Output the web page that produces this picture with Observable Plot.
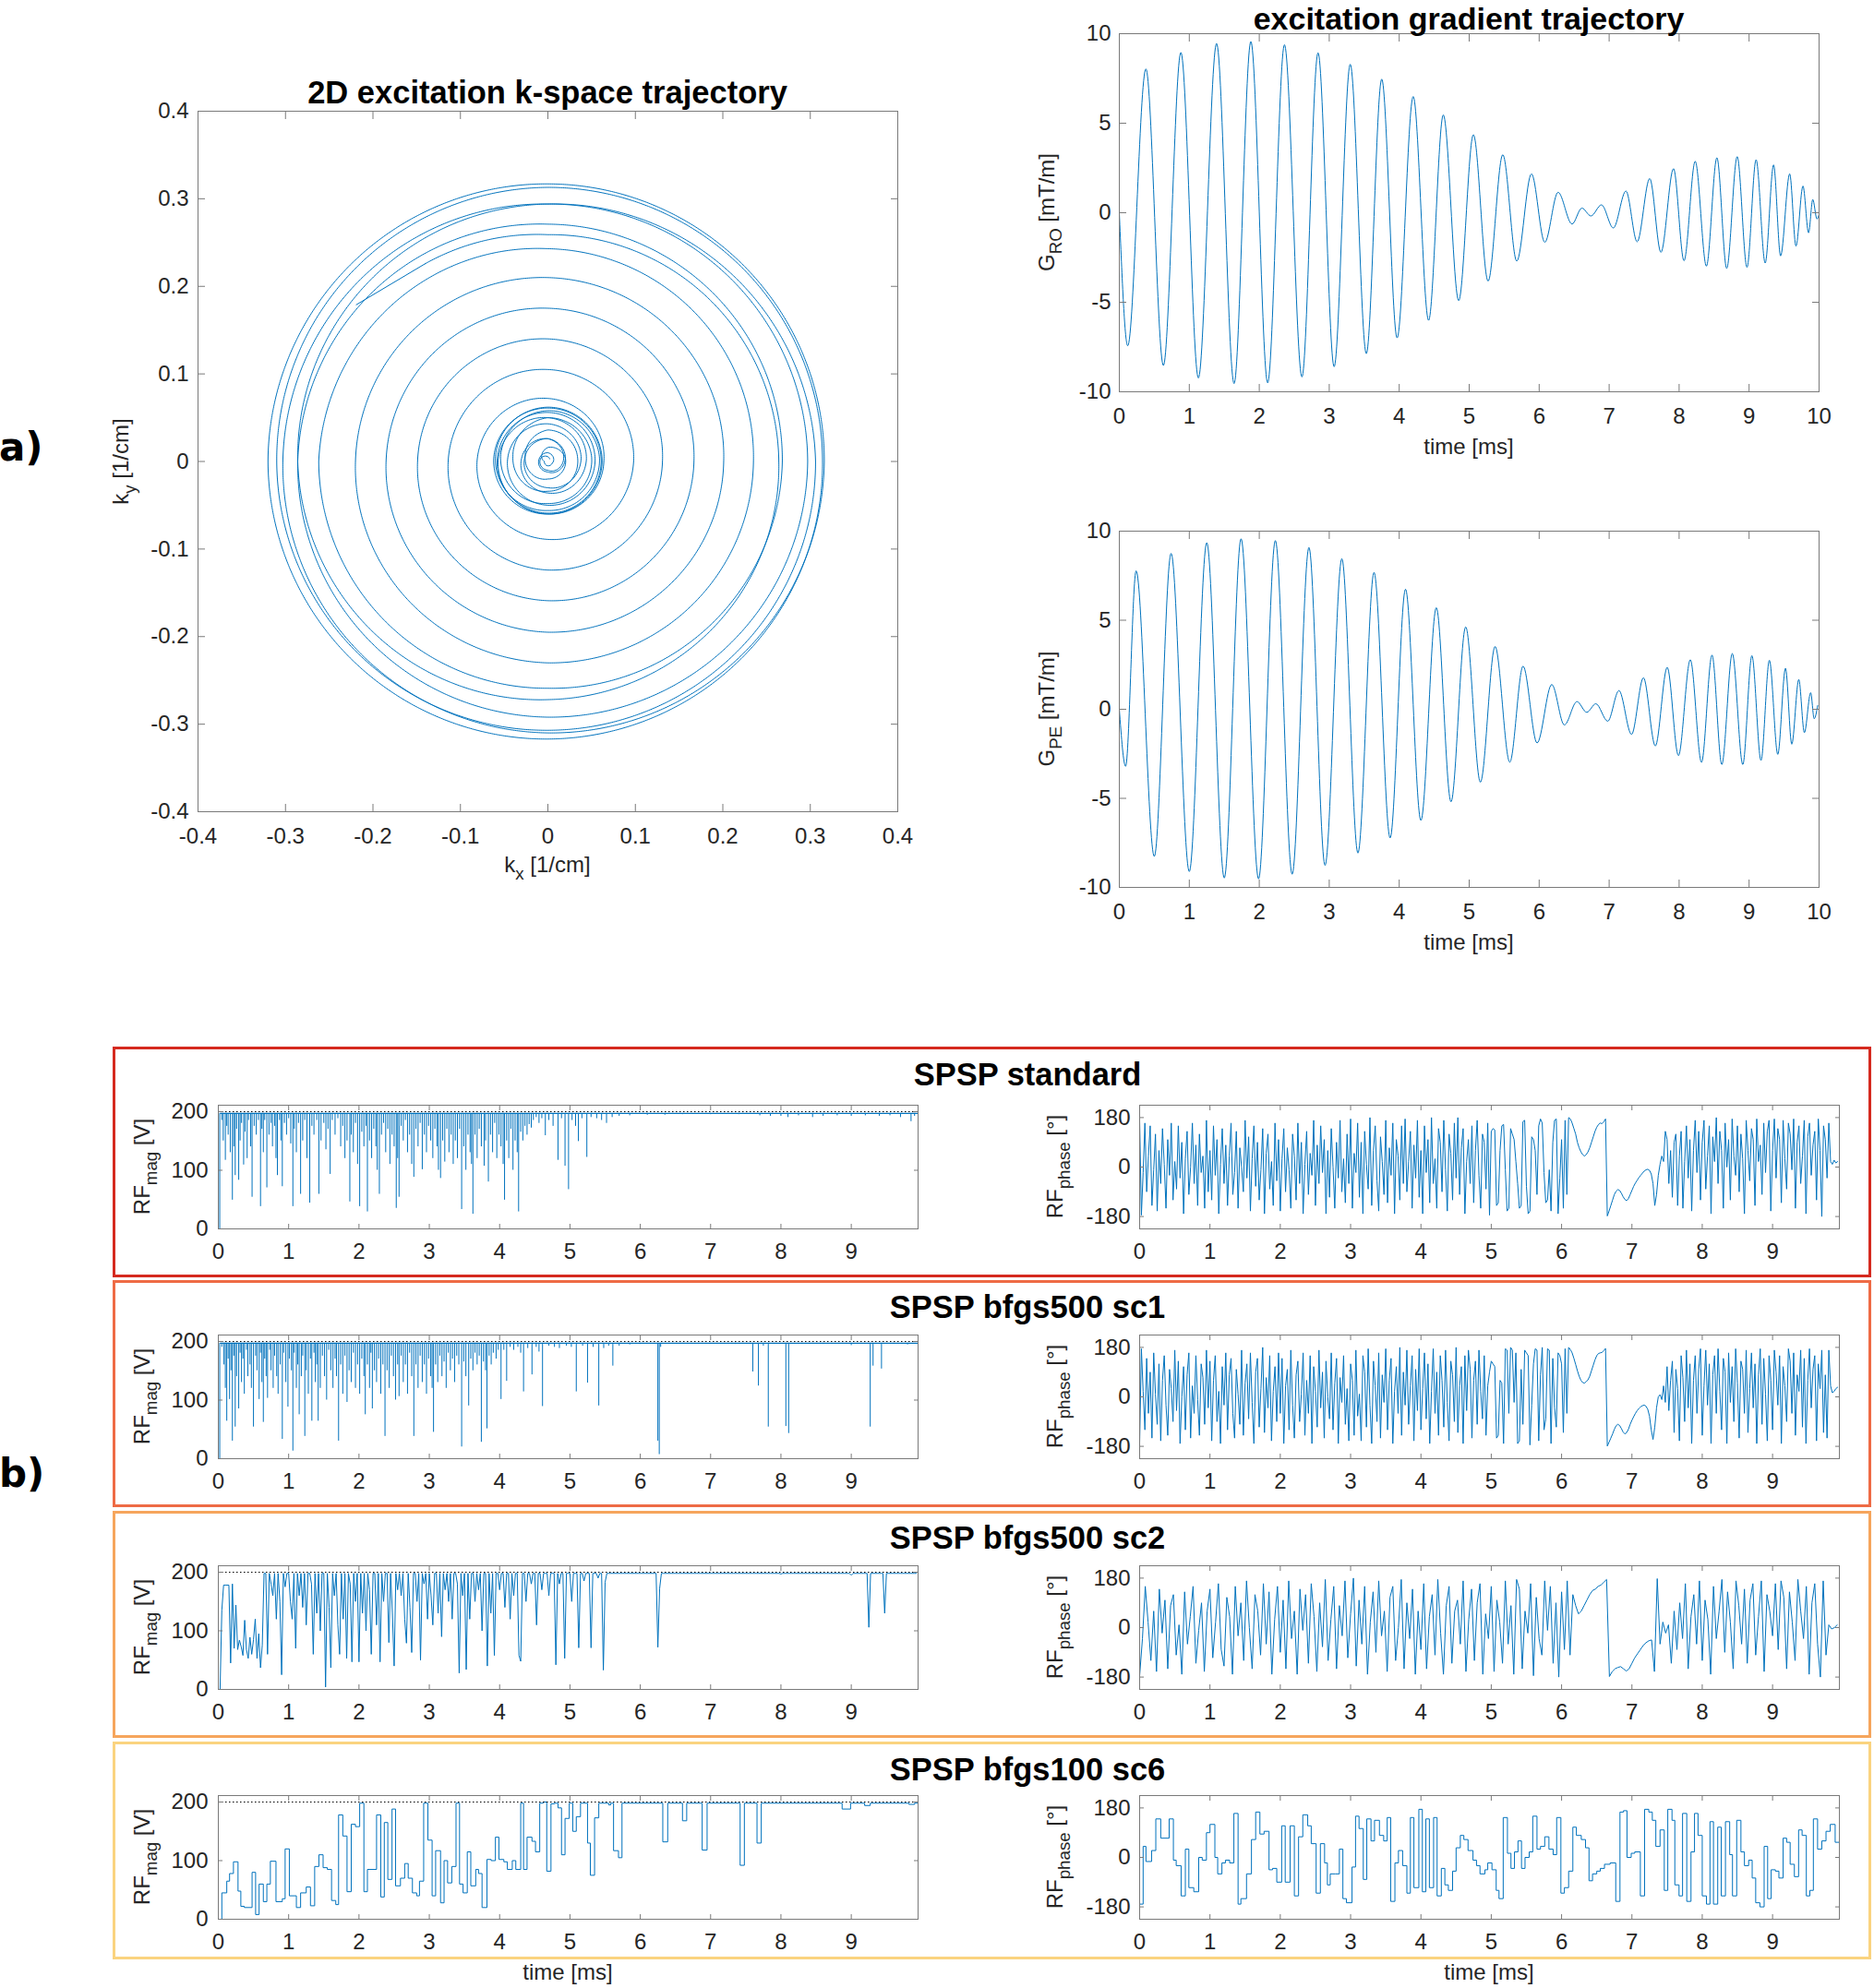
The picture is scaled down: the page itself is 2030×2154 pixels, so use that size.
<!DOCTYPE html>
<html><head><meta charset="utf-8">
<script src="https://cdn.jsdelivr.net/npm/d3@7"></script>
<script src="https://cdn.jsdelivr.net/npm/@observablehq/plot@0.6"></script>
<style>
body{margin:0;background:#fff;}
#root{position:relative;width:2030px;height:2154px;overflow:hidden;font-family:"Liberation Sans",Arial,Helvetica,sans-serif;color:#262626;background:#fff;}
.t{position:absolute;line-height:1;white-space:nowrap;}
.sb{font-size:0.78em;position:relative;top:0.42em;}
.box{position:absolute;box-sizing:border-box;border-style:solid;border-width:3px;}
</style></head>
<body><div id="root"></div>
<script>
// ---------------- DATA ----------------
// 2D excitation k-space trajectory [kx, ky] in 1/cm: straight start segment, then axis crossings (chronological)
const kLeadIn = [[-0.219, 0.179], [-0.140, 0.226]];
const kTraj = [
 [-0.140, 0.226],
 [0, 0.259], [0.264, 0], [0, -0.272], [-0.286, 0],
 [0, 0.294], [0.306, 0], [0, -0.307], [-0.310, 0],
 [0, 0.313], [0.314, 0], [0, -0.317], [-0.320, 0],
 [0, 0.317], [0.316, 0], [0, -0.310], [-0.303, 0],
 [0, 0.294], [0.297, 0], [0, -0.292], [-0.286, 0],
 [0, 0.271], [0.268, 0], [0, -0.259], [-0.262, 0],
 [0, 0.243], [0.235, 0], [0, -0.230], [-0.220, 0],
 [0, 0.210], [0.201, 0], [0, -0.195], [-0.185, 0],
 [0, 0.175], [0.167, 0], [0, -0.159], [-0.149, 0],
 [0, 0.140], [0.131, 0], [0, -0.124], [-0.114, 0],
 [0, 0.105], [0.098, 0], [0, -0.089], [-0.081, 0],
 [0, 0.072], [0.064, 0], [0, -0.060], [-0.057, 0],
 [0, 0.050], [0.044, 0.002], [0, -0.036], [-0.030, 0.004],
 [0, 0.026], [0.020, 0.004], [0, -0.012], [-0.010, 0.003],
 [0, 0.010], [0.005, -0.002], [0, -0.005], [-0.004, 0.0],
 [0, 0.016], [0.020, 0.004], [0, -0.020], [-0.026, 0.005],
 [0, 0.036], [0.034, 0.004], [0, -0.034], [-0.040, 0.006],
 [0, 0.050], [0.050, 0.005], [0, -0.048], [-0.054, 0.006],
 [0, 0.058], [0.059, 0.004], [0, -0.056], [-0.060, 0.004],
 [0, 0.062], [0.062, 0.002], [0, -0.060], [-0.062, 0.002],
 [0, 0.061], [0.061, 0], [0, -0.059], [-0.058, 0],
 [0, 0.056], [0.054, 0.002], [0, -0.050], [-0.046, 0.003],
 [0, 0.043], [0.038, 0.004], [0, -0.030], [-0.026, 0.006],
 [0, 0.026], [0.018, 0.006], [0, -0.010], [-0.008, 0.004],
 [0.002, 0.003]
];
// Gradient waveforms: extrema [time ms, mT/m]
const gRO = [[0,0],[0.12,-7.43],[0.38,8.03],[0.63,-8.53],[0.88,8.95],[1.13,-9.23],[1.39,9.45],[1.64,-9.54],[1.88,9.56],[2.12,-9.50],[2.36,9.38],[2.61,-9.17],[2.84,8.93],[3.07,-8.60],[3.30,8.29],[3.53,-7.87],[3.75,7.46],[3.97,-6.99],[4.20,6.49],[4.42,-6.01],[4.63,5.46],[4.85,-4.91],[5.06,4.36],[5.27,-3.82],[5.48,3.24],[5.68,-2.70],[5.89,2.17],[6.08,-1.65],[6.27,1.14],[6.47,-0.63],[6.61,0.26],[6.74,-0.18],[6.89,0.44],[7.06,-0.85],[7.24,1.21],[7.40,-1.62],[7.58,1.91],[7.74,-2.21],[7.92,2.46],[8.07,-2.68],[8.23,2.87],[8.39,-2.98],[8.54,3.07],[8.68,-3.11],[8.83,3.13],[8.97,-3.05],[9.10,2.96],[9.23,-2.81],[9.35,2.67],[9.45,-2.41],[9.58,2.17],[9.67,-1.86],[9.77,1.49],[9.85,-1.12],[9.91,0.74],[9.97,-0.35],[10,-0.1]];
const gPE = [[0,0],[0.09,-3.20],[0.24,7.77],[0.50,-8.26],[0.74,8.75],[1.00,-9.11],[1.25,9.35],[1.50,-9.47],[1.74,9.57],[1.99,-9.52],[2.23,9.47],[2.47,-9.26],[2.71,9.08],[2.94,-8.76],[3.18,8.45],[3.41,-8.07],[3.64,7.68],[3.87,-7.22],[4.09,6.74],[4.31,-6.24],[4.53,5.70],[4.74,-5.19],[4.95,4.62],[5.16,-4.09],[5.37,3.52],[5.58,-2.97],[5.77,2.42],[5.97,-1.89],[6.18,1.39],[6.36,-0.88],[6.54,0.43],[6.68,-0.17],[6.81,0.31],[6.98,-0.67],[7.14,1.05],[7.32,-1.41],[7.49,1.77],[7.66,-2.06],[7.83,2.35],[7.99,-2.60],[8.16,2.78],[8.32,-2.98],[8.47,3.04],[8.61,-3.10],[8.76,3.13],[8.91,-3.10],[9.04,3.01],[9.17,-2.87],[9.29,2.75],[9.41,-2.53],[9.52,2.30],[9.61,-1.96],[9.71,1.67],[9.79,-1.31],[9.88,0.93],[9.93,-0.53],[9.98,0.21]];

// RF magnitude limit (dotted) [V]
const rfLimit = 200;
// SPSP standard: RF magnitude rail and dips [time ms, V]
const stdMagRail = [[0.03,197],[9.94,197]];
const stdMagDips = [[0.02,0],[0.05,185],[0.07,150],[0.10,117],[0.12,175],[0.14,160],[0.17,130],[0.20,49],[0.22,140],[0.24,91],[0.26,170],[0.29,83],[0.31,150],[0.33,180],[0.36,109],[0.38,165],[0.41,120],[0.43,185],[0.46,140],[0.48,54],[0.51,175],[0.54,160],[0.57,185],[0.60,38],[0.62,170],[0.64,130],[0.66,185],[0.69,70],[0.72,160],[0.75,180],[0.77,140],[0.80,175],[0.82,120],[0.84,91],[0.87,185],[0.89,150],[0.91,72],[0.94,180],[0.97,160],[1.00,188],[1.03,145],[1.06,38],[1.08,170],[1.11,130],[1.14,180],[1.17,59],[1.20,150],[1.23,185],[1.26,120],[1.30,44],[1.33,175],[1.36,160],[1.40,185],[1.43,59],[1.46,150],[1.50,180],[1.53,135],[1.56,170],[1.59,93],[1.62,185],[1.66,160],[1.70,188],[1.74,140],[1.77,175],[1.80,120],[1.83,150],[1.87,46],[1.89,160],[1.92,130],[1.95,180],[1.98,110],[2.01,38],[2.04,165],[2.07,140],[2.10,175],[2.12,29],[2.15,150],[2.18,120],[2.21,170],[2.24,140],[2.26,100],[2.29,59],[2.32,160],[2.35,180],[2.38,130],[2.41,170],[2.44,110],[2.47,160],[2.50,140],[2.53,35],[2.55,120],[2.57,54],[2.60,175],[2.63,150],[2.66,185],[2.69,130],[2.72,160],[2.75,110],[2.78,88],[2.81,170],[2.84,140],[2.87,180],[2.90,101],[2.93,160],[2.96,130],[2.99,175],[3.02,150],[3.05,120],[3.08,170],[3.11,140],[3.13,100],[3.16,86],[3.19,150],[3.22,114],[3.25,170],[3.28,130],[3.31,160],[3.34,110],[3.37,150],[3.40,120],[3.43,170],[3.46,33],[3.49,140],[3.52,100],[3.55,160],[3.58,130],[3.60,110],[3.62,25],[3.65,160],[3.68,120],[3.71,170],[3.74,140],[3.78,107],[3.80,150],[3.84,80],[3.87,160],[3.90,130],[3.93,180],[3.96,120],[3.99,160],[4.02,140],[4.05,110],[4.07,49],[4.10,150],[4.13,120],[4.16,170],[4.19,100],[4.22,150],[4.25,130],[4.27,29],[4.30,165],[4.33,150],[4.36,175],[4.39,160],[4.42,178],[4.45,172],[4.48,185],[4.52,190],[4.56,180],[4.60,188],[4.65,159],[4.70,185],[4.76,175],[4.83,117],[4.88,188],[4.93,107],[4.98,67],[5.03,185],[5.08,175],[5.12,149],[5.17,188],[5.24,122],[5.30,190],[5.38,188],[5.45,185],[5.52,180],[5.60,190],[5.70,192],[5.85,193],[6.10,194],[6.35,194],[6.60,195],[7.0,195],[7.4,195],[7.7,193],[7.85,192],[8.0,192],[8.1,190],[8.25,193],[8.45,190],[8.6,192],[8.8,193],[9.0,192],[9.2,193],[9.4,192],[9.55,193],[9.7,190],[9.85,183],[9.9,192]];
// SPSP bfgs500 sc1: RF magnitude rail and dips
const sc1MagRail = [[0.03,197],[9.94,197]];
const sc1MagDips = [[0.02,0],[0.05,190],[0.08,160],[0.10,120],[0.12,64],[0.14,170],[0.16,101],[0.18,150],[0.20,30],[0.22,175],[0.24,54],[0.26,140],[0.29,85],[0.31,180],[0.33,130],[0.35,170],[0.37,110],[0.40,185],[0.42,140],[0.45,160],[0.47,120],[0.50,54],[0.53,175],[0.55,150],[0.58,101],[0.60,180],[0.62,130],[0.64,62],[0.66,170],[0.68,140],[0.70,103],[0.73,185],[0.75,150],[0.78,120],[0.80,175],[0.83,140],[0.85,110],[0.88,160],[0.91,33],[0.93,180],[0.96,130],[0.99,88],[1.01,170],[1.04,150],[1.06,13],[1.08,180],[1.11,120],[1.13,160],[1.15,75],[1.18,140],[1.20,175],[1.23,38],[1.25,150],[1.28,110],[1.31,170],[1.33,64],[1.36,180],[1.38,130],[1.40,160],[1.42,64],[1.45,120],[1.48,175],[1.51,140],[1.54,100],[1.57,185],[1.60,150],[1.63,120],[1.66,170],[1.68,140],[1.71,30],[1.74,160],[1.77,110],[1.80,175],[1.83,96],[1.86,150],[1.89,130],[1.92,180],[1.95,120],[1.98,160],[2.01,110],[2.04,170],[2.07,140],[2.09,75],[2.12,160],[2.15,120],[2.17,180],[2.19,85],[2.22,150],[2.25,130],[2.28,170],[2.31,110],[2.34,160],[2.37,38],[2.40,150],[2.43,120],[2.46,175],[2.49,140],[2.52,100],[2.55,160],[2.57,106],[2.60,175],[2.63,130],[2.66,160],[2.69,110],[2.72,180],[2.75,140],[2.78,38],[2.81,160],[2.84,120],[2.87,175],[2.90,130],[2.93,160],[2.96,110],[2.99,170],[3.02,140],[3.04,120],[3.06,45],[3.09,160],[3.12,130],[3.15,175],[3.18,140],[3.21,165],[3.24,120],[3.27,180],[3.30,150],[3.33,170],[3.36,130],[3.39,175],[3.42,160],[3.46,20],[3.49,165],[3.52,140],[3.56,90],[3.59,170],[3.62,150],[3.65,180],[3.68,160],[3.71,175],[3.74,28],[3.77,165],[3.80,150],[3.82,51],[3.85,175],[3.88,160],[3.91,180],[3.95,170],[3.98,185],[4.02,101],[4.06,185],[4.10,132],[4.15,190],[4.20,185],[4.26,190],[4.30,180],[4.34,114],[4.40,188],[4.46,143],[4.52,190],[4.56,182],[4.61,89],[4.70,192],[4.78,190],[4.85,188],[4.95,192],[5.02,190],[5.09,114],[5.18,192],[5.25,129],[5.33,190],[5.41,90],[5.48,188],[5.55,192],[5.61,158],[5.70,192],[5.85,194],[6.0,195],[6.25,30],[6.27,7],[6.29,190],[6.6,196],[7.0,196],[7.35,195],[7.60,148],[7.68,124],[7.75,192],[7.82,54],[7.9,195],[8.07,55],[8.11,43],[8.3,195],[8.6,195],[9.0,193],[9.27,54],[9.31,158],[9.43,153],[9.6,195],[9.8,194]];
// SPSP bfgs500 sc2: RF magnitude samples every 0.025 ms
const sc2MagDt = 0.025;
const sc2Mag = [
 0,0,135,178,178,178,178,45,180,70,144,68,84,73,58,118,68,53,89,60,85,120,53,95,37,76,198,198,60,198,180,160,198,120,198,150,25,198,175,198,
 198,150,120,198,70,198,160,198,140,198,110,198,198,180,60,198,130,198,100,198,198,4,198,140,37,198,160,198,110,60,198,120,198,53,198,180,47,198,150,198,
 47,198,130,198,100,198,170,60,198,198,110,198,47,198,150,198,198,80,198,130,40,198,170,198,160,198,120,79,198,140,63,198,198,150,198,50,198,180,198,120,
 198,160,110,198,198,130,198,90,198,170,198,150,198,120,198,198,180,28,198,160,198,34,198,120,198,198,150,198,170,198,100,198,198,40,198,130,198,58,198,198,
 170,198,198,140,198,198,120,198,160,198,198,58,48,198,198,150,198,198,180,198,198,110,198,198,170,198,198,198,160,198,198,198,42,198,180,198,198,53,198,198,
 198,150,198,198,198,71,198,198,185,198,198,198,71,198,198,198,190,198,198,33,183,198,198,198,198,198,198,198,198,198,198,198,198,198,198,198,198,198,198,198,
 198,198,198,198,198,198,198,198,198,198,72,172,198,198,198,198,198,198,198,198,198,198,198,198,198,198,198,198,198,198,198,198,198,198,198,198,198,198,198,198,
 198,198,198,198,198,198,198,198,198,198,198,198,198,198,198,198,198,198,198,198,198,198,198,198,198,198,198,198,198,198,198,198,198,198,198,198,198,198,198,198,
 197,198,198,198,198,198,198,198,198,198,198,198,198,198,198,198,198,198,198,198,198,198,198,198,198,198,198,198,198,198,198,198,198,198,198,198,198,198,198,198,
 195,198,198,198,198,198,198,198,198,198,106,198,198,198,198,198,198,198,198,130,198,198,198,198,198,198,198,198,198,198,198,198,198,198,198,198,198,198
];
// SPSP bfgs100 sc6: RF magnitude steps [start time ms, V]
const sc6Mag = [[0,0],[0.05,45],[0.12,65],[0.16,78],[0.215,98],[0.28,48],[0.32,22],[0.37,20],[0.48,80],[0.53,8],[0.58,60],[0.64,30],[0.69,60],[0.74,99],[0.82,30],[0.91,35],[0.95,120],[1.01,40],[1.11,20],[1.17,45],[1.25,55],[1.31,23],[1.37,90],[1.43,110],[1.49,88],[1.55,85],[1.61,32],[1.67,25],[1.71,178],[1.77,142],[1.83,47],[1.89,162],[1.95,158],[2.01,198],[2.07,47],[2.12,85],[2.25,178],[2.31,38],[2.36,165],[2.41,68],[2.47,188],[2.52,57],[2.59,70],[2.65,95],[2.70,70],[2.76,45],[2.82,40],[2.86,65],[2.92,198],[2.98,135],[3.04,40],[3.09,117],[3.16,28],[3.21,100],[3.26,62],[3.32,90],[3.38,198],[3.43,60],[3.48,45],[3.54,115],[3.59,57],[3.66,85],[3.70,78],[3.75,20],[3.82,102],[3.88,100],[3.94,140],[3.99,102],[4.06,98],[4.11,85],[4.18,100],[4.23,85],[4.30,198],[4.34,85],[4.39,140],[4.46,133],[4.51,115],[4.57,198],[4.62,200],[4.67,82],[4.73,197],[4.78,198],[4.83,190],[4.88,110],[4.93,172],[4.99,198],[5.04,150],[5.09,175],[5.15,198],[5.25,130],[5.29,75],[5.35,173],[5.41,198],[5.55,195],[5.58,198],[5.62,117],[5.69,105],[5.74,198],[6.32,132],[6.39,198],[6.60,168],[6.66,198],[6.88,118],[6.95,198],[7.42,92],[7.48,198],[7.66,130],[7.72,198],[8.87,188],[8.99,198],[9.19,194],[9.27,198],[9.82,196],[9.90,198],[9.95,198]];

// RF phase [deg]: SPSP standard, samples every 0.025 ms
const stdPhaseDt = 0.025;
const stdPhase = [
 170,-175,-20,160,-90,40,150,-140,-10,120,-160,60,-60,140,10,-150,100,-30,160,-120,20,-80,150,-40,90,-170,30,130,-100,0,160,-60,80,-140,120,-20,40,-150,170,-90,
 60,-120,150,-30,100,-170,10,140,-60,80,-140,40,160,-100,-20,130,-150,70,0,-90,170,-40,110,-160,30,150,-70,90,-120,-10,140,-170,50,120,-80,20,-140,160,-50,100,
 -160,30,140,-90,70,-10,-150,120,40,-120,160,-60,90,-170,10,130,-100,50,-30,170,-140,80,-60,150,-20,100,-170,60,-110,140,0,-150,90,-40,170,-90,30,-130,120,-60,
 175,-150,50,-20,160,-110,90,-170,130,10,-80,180,-140,60,150,-50,-160,110,20,-100,170,-130,70,-30,160,-170,100,40,-120,150,-60,175,-90,20,130,-150,80,-40,170,-110,
 60,-170,150,-20,100,-130,180,-60,30,-150,140,90,-90,170,-10,-160,120,50,-120,160,-40,180,-100,70,140,-170,20,100,-60,150,-130,60,170,-30,-150,120,90,-80,160,-175,
 130,140,135,-140,-130,60,150,155,-10,-160,-150,140,120,100,20,-60,-150,-140,165,170,-70,-170,-160,110,100,60,-100,150,175,160,-20,-130,-120,-10,-160,90,170,175,-170,-40,
 100,-150,170,-100,180,175,160,140,120,90,70,55,45,40,45,55,70,90,110,130,145,155,160,158,165,175,-178,-160,-140,-120,-100,-88,-82,-85,-95,-108,-118,-122,-115,-100,
 -85,-70,-58,-48,-38,-30,-22,-15,-10,-8,-12,-25,-60,-140,-100,-30,10,40,20,130,100,-60,60,-110,90,120,-140,40,130,-150,20,150,-40,100,-160,60,170,-20,130,-120,
 90,170,-80,40,150,-170,110,20,180,-60,130,60,-150,160,0,100,-120,175,40,-30,150,-90,120,30,-170,170,60,-50,140,100,-140,175,20,80,-100,160,-20,130,170,-160,
 60,175,-40,140,100,-130,170,30,-80,160,120,-10,175,-150,90,150,-60,40,170,-170,110,160,-30,80,130,-120,175,60,-180,150,100,-40,160,20,10,25,15,20
];
// RF phase: SPSP bfgs500 sc1, samples every 0.025 ms
const sc1PhaseDt = 0.025;
const sc1Phase = [
 -170,175,20,-120,140,-60,90,-150,160,10,-100,120,-160,60,150,-30,-140,100,30,-90,170,-50,130,-170,0,110,-120,80,160,-150,40,-60,150,-10,-140,120,70,-100,170,-40,
 130,-160,60,150,-90,20,-170,110,-30,160,-120,80,140,-60,-150,100,10,-100,170,-140,50,120,-80,160,-20,-170,90,140,-110,30,180,-130,70,-40,150,-160,20,110,-90,160,
 -60,140,-170,40,100,-120,170,-30,-150,80,130,-90,10,160,-140,60,-60,150,-170,110,20,-110,170,-40,90,-150,130,0,-80,160,-120,50,140,-170,70,-20,150,-100,30,-160,
 120,60,-140,170,-70,10,-160,150,90,-110,175,-30,-170,130,40,-90,160,-150,80,-20,175,-120,60,140,-170,20,110,-60,180,-140,90,-30,170,-100,40,150,-160,100,-50,175,
 -120,30,160,-80,120,-170,20,175,-60,90,-140,150,60,-110,170,-20,-160,130,80,-90,180,-130,40,110,-170,150,-50,170,100,-150,60,130,-100,170,20,-80,150,-140,40,90,
 130,120,110,-150,-140,60,50,-170,175,170,-60,180,170,-20,160,-170,-160,100,-100,170,160,150,-175,-30,120,175,170,-160,80,180,-120,-80,175,170,-170,140,-40,-110,160,150,
 120,-130,175,-60,180,172,160,140,118,95,75,60,52,50,55,62,75,95,115,135,150,158,160,162,168,176,-179,-165,-150,-135,-118,-105,-100,-104,-115,-128,-135,-130,-118,-100,
 -85,-72,-60,-50,-42,-36,-32,-30,-34,-45,-70,-120,-155,-110,-40,0,8,-10,40,-20,110,-50,60,130,-130,100,30,-160,150,70,-90,170,-40,120,-170,60,150,-60,100,175,
 -140,40,170,-30,120,-170,80,150,-60,175,20,-120,140,90,-170,160,-20,110,-90,175,50,-150,130,100,-60,170,-130,30,160,-40,120,-170,80,175,-100,140,10,-160,150,60,
 -120,170,90,-30,150,-170,110,40,-90,175,130,-60,160,-140,80,20,170,-110,140,-170,60,175,-40,100,150,-160,120,30,170,-130,80,-150,170,40,15,20,30,35
];
// RF phase: SPSP bfgs500 sc2, samples every 0.04 ms
const sc2PhaseDt = 0.04;
const sc2Phase = [
 -175,-40,150,20,-120,60,-160,140,-20,100,-150,80,120,-100,10,-170,130,-60,40,150,-130,-10,90,-160,60,
 140,-110,20,160,-80,-140,110,40,-170,150,-30,90,-120,170,0,-150,120,60,-100,160,-60,130,-170,30,150,
 -90,100,-150,170,-40,60,-170,140,-10,120,-130,160,40,-160,90,-70,175,-120,30,150,-150,80,-30,170,-110,
 50,180,-140,100,-60,150,-170,20,130,-90,170,-30,60,-160,110,150,-120,0,175,-150,90,-40,140,-170,60,
 -80,160,-150,40,120,-100,175,-20,-170,80,150,-130,60,100,-60,170,-160,30,140,-120,90,160,-170,50,-40,
 150,-160,100,20,-130,170,-60,80,-170,175,140,-150,60,-20,160,-175,110,-40,-100,170,-10,150,-130,90,-180,
 130,-80,170,-100,120,80,50,60,80,100,120,135,140,150,155,165,175,-178,-160,-150,-145,-142,-150,-158,-150,
 -130,-110,-95,-80,-65,-55,-48,-45,-160,178,-60,20,-20,10,-130,60,-80,90,-40,160,-150,40,120,-60,170,
 -120,100,30,-170,150,-40,60,175,-90,130,20,-150,170,80,-60,140,-130,100,160,-100,40,170,-160,120,60,
 -30,160,-80,170,110,-150,130,20,-120,175,60,-40,150,-170,90,160,-60,-180,170,-100,10,-5,0,10
];
// RF phase: SPSP bfgs100 sc6 steps [start time ms, deg]
const sc6Phase = [[0,-170],[0.05,40],[0.09,-15],[0.17,25],[0.23,140],[0.30,70],[0.42,140],[0.48,-10],[0.52,-30],[0.59,-140],[0.65,30],[0.70,-110],[0.77,-125],[0.84,0],[0.89,-10],[0.95,90],[1.00,120],[1.07,0],[1.11,-60],[1.17,-20],[1.22,-10],[1.28,-20],[1.34,160],[1.40,-170],[1.44,-150],[1.52,-60],[1.59,65],[1.65,165],[1.71,85],[1.77,95],[1.84,-45],[1.89,-40],[1.95,-90],[2.02,115],[2.07,-90],[2.14,115],[2.20,-140],[2.26,75],[2.32,155],[2.39,115],[2.44,50],[2.51,-130],[2.57,50],[2.63,-20],[2.67,-100],[2.71,-60],[2.78,-60],[2.84,30],[2.89,-150],[2.94,-165],[3.02,-35],[3.07,150],[3.12,105],[3.18,-80],[3.23,140],[3.29,60],[3.34,135],[3.41,80],[3.47,60],[3.52,145],[3.57,-160],[3.63,-20],[3.68,25],[3.74,-30],[3.80,-130],[3.85,145],[3.90,-110],[3.97,175],[4.02,-125],[4.07,140],[4.12,-110],[4.18,145],[4.23,-140],[4.29,-40],[4.34,-100],[4.39,-120],[4.45,-50],[4.50,35],[4.56,80],[4.61,65],[4.67,25],[4.74,-10],[4.79,-30],[4.84,-60],[4.91,-45],[4.95,-20],[5.01,-45],[5.07,-120],[5.11,-150],[5.17,145],[5.23,15],[5.28,-40],[5.33,20],[5.38,60],[5.43,-40],[5.48,0],[5.54,20],[5.59,150],[5.65,30],[5.70,40],[5.76,75],[5.82,30],[5.88,10],[5.93,145],[5.99,-130],[6.04,-110],[6.10,-50],[6.16,110],[6.21,80],[6.28,65],[6.34,35],[6.39,-85],[6.44,-60],[6.50,-50],[6.55,-40],[6.61,-25],[6.69,-20],[6.77,-160],[6.83,165],[6.88,170],[6.93,0],[6.99,15],[7.04,20],[7.12,-140],[7.18,175],[7.24,165],[7.29,135],[7.34,40],[7.40,100],[7.46,-120],[7.51,175],[7.57,135],[7.61,-100],[7.67,-140],[7.72,160],[7.78,-160],[7.84,20],[7.89,160],[7.94,80],[8.00,-140],[8.06,-170],[8.11,130],[8.16,-170],[8.22,110],[8.27,-140],[8.33,130],[8.39,10],[8.43,-140],[8.49,135],[8.55,20],[8.60,-30],[8.66,-10],[8.71,-75],[8.76,-165],[8.82,-180],[8.88,40],[8.93,-150],[8.98,-45],[9.04,-50],[9.09,-75],[9.15,70],[9.20,55],[9.25,-25],[9.31,-70],[9.37,100],[9.42,80],[9.48,-140],[9.53,-120],[9.58,140],[9.64,30],[9.70,60],[9.76,95],[9.82,120],[9.89,55],[9.95,55]];

// tick values
const kTicks = [-0.4,-0.3,-0.2,-0.1,0,0.1,0.2,0.3,0.4];
const gxTicks = [0,1,2,3,4,5,6,7,8,9,10];
const gyTicks = [-10,-5,0,5,10];
const rfxTicks = [0,1,2,3,4,5,6,7,8,9];
const magTicks = [0,100,200];
const phaseTicks = [-180,0,180];
const panelTitles = ["SPSP standard","SPSP bfgs500 sc1","SPSP bfgs500 sc2","SPSP bfgs100 sc6"];
const boxColors = ["#D52A1F","#EE6B45","#F6A55C","#FAD37F"];

// ---------------- DRAWING ----------------
const BLUE = "#0072BD";
const AX = "#262626";
const FRAME = "#7a7a7a";
const FONT = '"Liberation Sans", Arial, Helvetica, sans-serif';
const root = document.getElementById("root");
const fmt = d => String(+(+d).toFixed(2));

// curve that joins successive points by arcs around the k-space origin (pixel cx, cy)
function polarCurve(cx, cy) {
  return function(context) {
    let pts = [];
    return {
      areaStart() {}, areaEnd() {},
      lineStart() { pts = []; },
      point(x, y) { pts.push([+x, +y]); },
      lineEnd() {
        if (!pts.length) return;
        context.moveTo(pts[0][0], pts[0][1]);
        for (let i = 1; i < pts.length; i++) {
          const [x0, y0] = pts[i - 1], [x1, y1] = pts[i];
          const a0 = Math.atan2(y0 - cy, x0 - cx), a1 = Math.atan2(y1 - cy, x1 - cx);
          const r0 = Math.hypot(x0 - cx, y0 - cy), r1 = Math.hypot(x1 - cx, y1 - cy);
          let da = a1 - a0;
          while (da > Math.PI) da -= 2 * Math.PI;
          while (da < -Math.PI) da += 2 * Math.PI;
          const n = Math.max(2, Math.ceil(Math.abs(da) * Math.max(r0, r1) / 2));
          for (let j = 1; j <= n; j++) {
            const t = j / n, a = a0 + da * t, r = r0 + (r1 - r0) * t;
            context.lineTo(cx + r * Math.cos(a), cy + r * Math.sin(a));
          }
        }
      }
    };
  };
}

const ML = 90, MT = 20, MR = 20, MB = 40;
function panel(L, T, fw, fh, xdom, ydom, marks, o) {
  const svg = Plot.plot({
    width: ML + fw + MR, height: MT + fh + MB,
    marginLeft: ML, marginTop: MT, marginRight: MR, marginBottom: MB,
    x: {domain: xdom}, y: {domain: ydom},
    style: {fontFamily: FONT, fontSize: "24px", color: AX, background: "transparent", overflow: "visible"},
    marks: [
      ...marks,
      Plot.frame({stroke: FRAME, strokeWidth: 1}),
      Plot.axisX({anchor: "bottom", ticks: o.xt, tickSize: -o.tk, tickPadding: o.tk + o.xp, tickFormat: fmt, label: null, stroke: FRAME, fill: AX}),
      Plot.axisX({anchor: "top", ticks: o.xt, tickSize: -o.tk, tickFormat: () => "", label: null, stroke: FRAME}),
      Plot.axisY({anchor: "left", ticks: o.yt, tickSize: -o.tk, tickPadding: o.tk + o.yp, tickFormat: fmt, label: null, stroke: FRAME, fill: AX}),
      Plot.axisY({anchor: "right", ticks: o.yt, tickSize: -o.tk, tickFormat: () => "", label: null, stroke: FRAME})
    ]
  });
  svg.style.position = "absolute";
  svg.style.left = (L - ML) + "px";
  svg.style.top = (T - MT) + "px";
  root.appendChild(svg);
}

function text(html, x, baseline, size, extra = {}) {
  const d = document.createElement("div");
  d.className = "t";
  d.innerHTML = html;
  d.style.fontSize = size + "px";
  if (extra.weight) d.style.fontWeight = extra.weight;
  if (extra.family) d.style.fontFamily = extra.family;
  d.style.color = extra.color || "#000";
  d.style.left = x + "px";
  d.style.top = (baseline - 0.8465 * size) + "px";
  if (extra.anchor !== "start") d.style.transform = "translateX(-50%)";
  root.appendChild(d);
}
function vtext(html, cx, cy, size) {
  const d = document.createElement("div");
  d.className = "t";
  d.innerHTML = html;
  d.style.fontSize = size + "px";
  d.style.color = AX;
  d.style.left = cx + "px";
  d.style.top = cy + "px";
  d.style.transform = "translate(-50%,-50%) rotate(-90deg)";
  root.appendChild(d);
}

// boxes (b)
const boxTops = [1134, 1387, 1637, 1887];
const boxBottoms = [1384, 1633, 1883, 2123];
boxTops.forEach((t, i) => {
  const b = document.createElement("div");
  b.className = "box";
  b.style.left = "122px"; b.style.top = t + "px";
  b.style.width = "1905px"; b.style.height = (boxBottoms[i] - t) + "px";
  b.style.borderColor = boxColors[i];
  root.appendChild(b);
});

// a) spiral (frame 758 x 759, symmetric domain: origin at frame centre)
const SPW = 758, SPH = 759;
panel(214, 120, SPW, SPH, [-0.4, 0.4], [-0.4, 0.4], [
  Plot.line(kLeadIn, {x: d => d[0], y: d => d[1], stroke: BLUE, strokeWidth: 1}),
  Plot.line(kTraj, {x: d => d[0], y: d => d[1], curve: polarCurve(ML + SPW / 2, MT + SPH / 2), stroke: BLUE, strokeWidth: 1})
], {xt: kTicks, yt: kTicks, tk: 8, xp: 17, yp: 10});

// gradients
panel(1212, 36, 758, 388, [0, 10], [-10, 10], [
  Plot.line(gRO, {x: d => d[0], y: d => d[1], curve: "monotone-x", stroke: BLUE, strokeWidth: 1})
], {xt: gxTicks, yt: gyTicks, tk: 8, xp: 17, yp: 9});
panel(1212, 575, 758, 386, [0, 10], [-10, 10], [
  Plot.line(gPE, {x: d => d[0], y: d => d[1], curve: "monotone-x", stroke: BLUE, strokeWidth: 1})
], {xt: gxTicks, yt: gyTicks, tk: 8, xp: 17, yp: 9});

// RF panels
const frameTops = [1197, 1446, 1696, 1945];
const XD = [0, 9.95];
const magO = {xt: rfxTicks, yt: magTicks, tk: 5, xp: 15, yp: 11};
const phO = {xt: rfxTicks, yt: phaseTicks, tk: 5, xp: 15, yp: 10};
const limitMark = () => Plot.ruleY([rfLimit], {stroke: "#000", strokeWidth: 1, strokeDasharray: "1.5,2.5"});

function railDips(rail, dips) {
  return [
    Plot.ruleX(dips, {x: d => d[0], y1: d => d[1], y2: () => rail[0][1], stroke: BLUE, strokeWidth: 1}),
    Plot.line(rail, {x: d => d[0], y: d => d[1], stroke: BLUE, strokeWidth: 1.2}),
    limitMark()
  ];
}
const seq = (arr, dt) => arr.map((v, i) => [i * dt, v]);

panel(236, frameTops[0], 758, 134, XD, [0, 211], railDips(stdMagRail, stdMagDips), magO);
panel(236, frameTops[1], 758, 134, XD, [0, 211], railDips(sc1MagRail, sc1MagDips), magO);
panel(236, frameTops[2], 758, 134, XD, [0, 211], [
  Plot.line(seq(sc2Mag, sc2MagDt), {x: d => d[0], y: d => d[1], stroke: BLUE, strokeWidth: 1}),
  limitMark()
], magO);
panel(236, frameTops[3], 758, 134, XD, [0, 211], [
  Plot.line(sc6Mag, {x: d => d[0], y: d => d[1], curve: "step-after", stroke: BLUE, strokeWidth: 1}),
  limitMark()
], magO);

panel(1234, frameTops[0], 758, 134, XD, [-225, 225], [
  Plot.line(seq(stdPhase, stdPhaseDt), {x: d => d[0], y: d => d[1], stroke: BLUE, strokeWidth: 1})
], phO);
panel(1234, frameTops[1], 758, 134, XD, [-225, 225], [
  Plot.line(seq(sc1Phase, sc1PhaseDt), {x: d => d[0], y: d => d[1], stroke: BLUE, strokeWidth: 1})
], phO);
panel(1234, frameTops[2], 758, 134, XD, [-225, 225], [
  Plot.line(seq(sc2Phase, sc2PhaseDt), {x: d => d[0], y: d => d[1], stroke: BLUE, strokeWidth: 1})
], phO);
panel(1234, frameTops[3], 758, 134, XD, [-225, 225], [
  Plot.line(sc6Phase, {x: d => d[0], y: d => d[1], curve: "step-after", stroke: BLUE, strokeWidth: 1})
], phO);

// texts
const BOLD = {weight: "bold"};
text("a)", -1, 500, 42, {weight: "bold", family: '"DejaVu Sans", sans-serif', anchor: "start"});
text("b)", -1, 1612, 42, {weight: "bold", family: '"DejaVu Sans", sans-serif', anchor: "start"});
text("2D excitation k-space trajectory", 593, 112, 34.5, BOLD);
text("excitation gradient trajectory", 1591, 32, 34, BOLD);
text('k<span class="sb">x</span> [1/cm]', 593, 945, 24, {color: AX});
vtext('k<span class="sb">y</span> [1/cm]', 131, 499.5, 24);
text("time [ms]", 1591, 492, 24, {color: AX});
text("time [ms]", 1591, 1029, 24, {color: AX});
vtext('G<span class="sb">RO</span> [mT/m]', 1134, 230, 24);
vtext('G<span class="sb">PE</span> [mT/m]', 1134, 768, 24);
const titleBase = [1176, 1428, 1678, 1929];
panelTitles.forEach((s, i) => {
  text(s, 1113, titleBase[i], 34.5, BOLD);
  vtext('RF<span class="sb">mag</span> [V]', 154, frameTops[i] + 67, 24);
  vtext('RF<span class="sb">phase</span> [°]', 1143, frameTops[i] + 67, 24);
});
text("time [ms]", 615, 2145, 24, {color: AX});
text("time [ms]", 1613, 2145, 24, {color: AX});
</script></body></html>
